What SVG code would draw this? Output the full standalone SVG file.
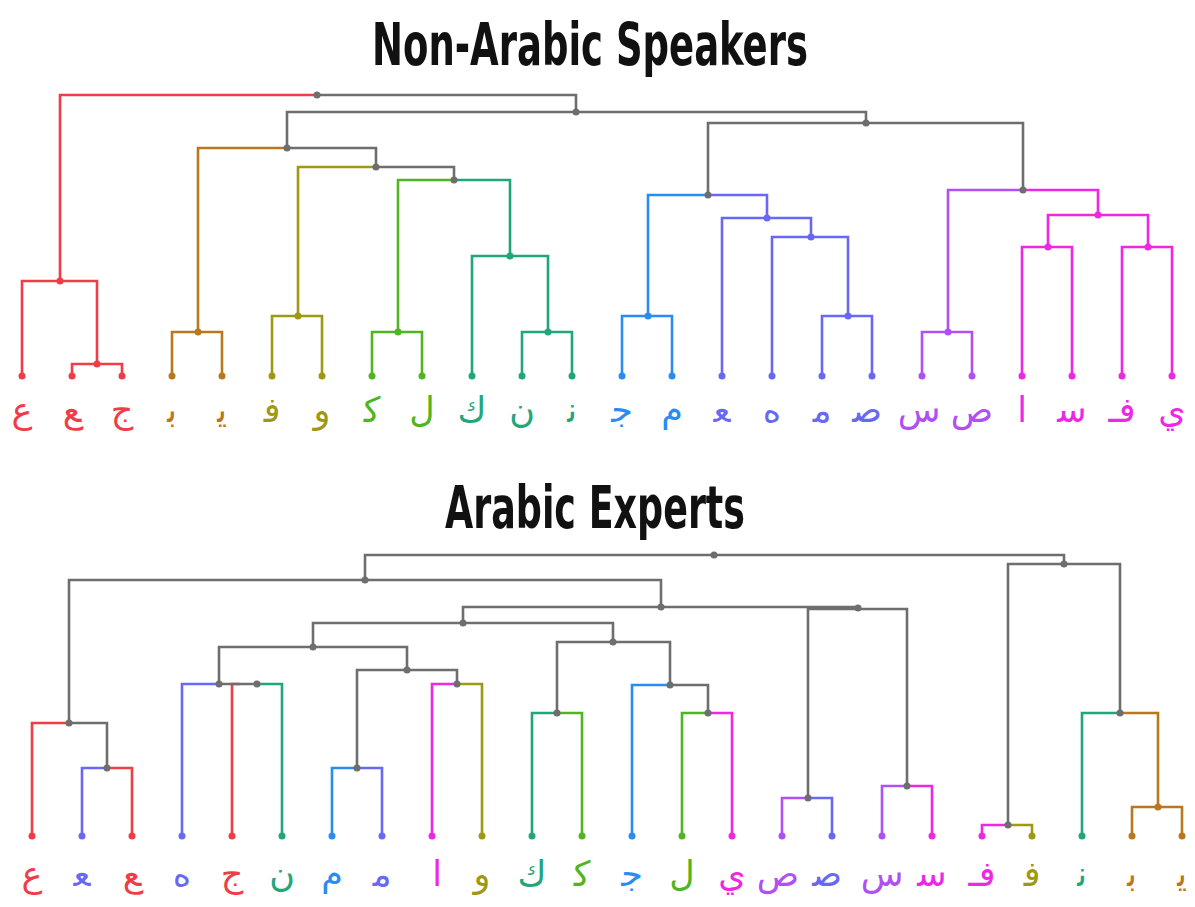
<svg xmlns="http://www.w3.org/2000/svg" width="1195" height="907" viewBox="0 0 1195 907">
<style>
.l{fill:none;stroke-width:2.6;stroke-linecap:butt;stroke-linejoin:miter}
.gy{stroke:#6e6e6e}.gyf{fill:#6e6e6e}
.rd{stroke:#f03c46}.rdf{fill:#f03c46}
.br{stroke:#b9781c}.brf{fill:#b9781c}
.ol{stroke:#9e9812}.olf{fill:#9e9812}
.gr{stroke:#4fb521}.grf{fill:#4fb521}
.te{stroke:#1fa67a}.tef{fill:#1fa67a}
.bl{stroke:#2b8cf0}.blf{fill:#2b8cf0}
.bp{stroke:#6868f4}.bpf{fill:#6868f4}
.pu{stroke:#b04ff5}.puf{fill:#b04ff5}
.mg{stroke:#ec28e4}.mgf{fill:#ec28e4}
.t{font-family:"DejaVu Sans Condensed","DejaVu Sans",sans-serif;font-weight:bold;fill:#111;text-anchor:middle}
.a{font-family:"DejaVu Sans",sans-serif;font-size:35px;text-anchor:middle}
</style>
<rect width="1195" height="907" fill="#fff"/>
<text class="t" x="590" y="65" font-size="58" textLength="436" lengthAdjust="spacingAndGlyphs">Non-Arabic Speakers</text>
<text class="t" x="595" y="528" font-size="58" textLength="300" lengthAdjust="spacingAndGlyphs">Arabic Experts</text>

<g id="connectors">
<g id="top-links">
<path class="l gy" d="M317,95H576V112 M287,148V112H866V123 M708,195V123H1023V190 M287,148H376V167H454V180"/>
<path class="l rd" d="M317,95H60V281 M22,376V281H97V364 M72,376V364H122V376"/>
<path class="l br" d="M287,148H198V332 M172,376V332H222V376"/>
<path class="l ol" d="M376,167H298V316 M272,376V316H322V376"/>
<path class="l gr" d="M454,180H398V332 M372,376V332H422V376"/>
<path class="l te" d="M454,180H510V256 M472,376V256H548V332 M522,376V332H572V376"/>
<path class="l bl" d="M708,195H648V316 M622,376V316H672V376"/>
<path class="l bp" d="M708,195H767V218 M722,376V218H811V237 M772,376V237H848V316 M822,376V316H872V376"/>
<path class="l pu" d="M1023,190H948V332 M922,376V332H972V376"/>
<path class="l mg" d="M1023,190H1098V215 M1048,247V215H1148V247 M1022,376V247H1072V376 M1122,376V247H1172V376"/>
</g>
<g id="bottom-links">
<path class="l rd" d="M32,836V723H69 M107,768H132V836 M232,836V684H240"/>
<path class="l gy" d="M365,580V555H1064V564 M69,723V580H661V607 M107,768V723H69 M463,623V607H858V609 M313,647V623H613V642 M219,684V647H407V670 M219,684H257 M357,768V670H457V684 M557,713V642H670V685H708V713 M808,798V609H907V786 M1008,825V564H1120V713"/>
<path class="l bp" d="M82,836V768H107 M182,836V684H219 M357,768H382V836 M808,798H832V836"/>
<path class="l te" d="M257,684H282V836 M532,836V713H557 M1082,836V713H1120"/>
<path class="l bl" d="M332,836V768H357 M632,836V685H670"/>
<path class="l mg" d="M432,836V684H457 M708,713H732V836 M907,786H932V836 M982,836V825H1008"/>
<path class="l ol" d="M457,684H482V836 M1008,825H1032V836"/>
<path class="l gr" d="M557,713H582V836 M682,836V713H708"/>
<path class="l pu" d="M782,836V798H808 M882,836V786H907"/>
<path class="l br" d="M1120,713H1158V807 M1132,836V807H1182V836"/>
</g>
</g>

<g id="top-internal-nodes">
<g id="tn-root"><circle class="gyf" cx="317" cy="95" r="3.5"/></g>
<g id="tn-a"><circle class="gyf" cx="576" cy="112" r="3.5"/></g>
<g id="tn-b"><circle class="gyf" cx="866" cy="123" r="3.5"/></g>
<g id="tn-c"><circle class="gyf" cx="287" cy="148" r="3.5"/></g>
<g id="tn-d"><circle class="gyf" cx="376" cy="167" r="3.5"/></g>
<g id="tn-e"><circle class="gyf" cx="454" cy="180" r="3.5"/></g>
<g id="tn-f"><circle class="gyf" cx="708" cy="195" r="3.5"/></g>
<g id="tn-g"><circle class="gyf" cx="1023" cy="190" r="3.5"/></g>
<g id="tn-h"><circle class="rdf" cx="60" cy="281" r="3.5"/></g>
<g id="tn-i"><circle class="rdf" cx="97" cy="364" r="3.5"/></g>
<g id="tn-j"><circle class="brf" cx="198" cy="332" r="3.5"/></g>
<g id="tn-k"><circle class="olf" cx="298" cy="316" r="3.5"/></g>
<g id="tn-l"><circle class="grf" cx="398" cy="332" r="3.5"/></g>
<g id="tn-m"><circle class="tef" cx="510" cy="256" r="3.5"/></g>
<g id="tn-n"><circle class="tef" cx="548" cy="332" r="3.5"/></g>
<g id="tn-o"><circle class="blf" cx="648" cy="316" r="3.5"/></g>
<g id="tn-p"><circle class="bpf" cx="767" cy="218" r="3.5"/></g>
<g id="tn-q"><circle class="bpf" cx="811" cy="237" r="3.5"/></g>
<g id="tn-r"><circle class="bpf" cx="848" cy="316" r="3.5"/></g>
<g id="tn-s"><circle class="puf" cx="948" cy="332" r="3.5"/></g>
<g id="tn-t"><circle class="mgf" cx="1098" cy="215" r="3.5"/></g>
<g id="tn-u"><circle class="mgf" cx="1048" cy="247" r="3.5"/></g>
<g id="tn-v"><circle class="mgf" cx="1148" cy="247" r="3.5"/></g>
</g>

<g id="top-leaves">
<g id="t0"><circle class="rdf" cx="22" cy="376" r="3.5"/><text class="a rdf" x="22" y="422">ع</text></g>
<g id="t1"><circle class="rdf" cx="72" cy="376" r="3.5"/><text class="a rdf" x="72" y="422">&#x200D;ع</text></g>
<g id="t2"><circle class="rdf" cx="122" cy="376" r="3.5"/><text class="a rdf" x="122" y="422">ج</text></g>
<g id="t3"><circle class="brf" cx="172" cy="376" r="3.5"/><text class="a brf" x="172" y="422">ب&#x200D;</text></g>
<g id="t4"><circle class="brf" cx="222" cy="376" r="3.5"/><text class="a brf" x="222" y="422">ي&#x200D;</text></g>
<g id="t5"><circle class="olf" cx="272" cy="376" r="3.5"/><text class="a olf" x="272" y="422">ف&#x200D;</text></g>
<g id="t6"><circle class="olf" cx="322" cy="376" r="3.5"/><text class="a olf" x="322" y="422">و</text></g>
<g id="t7"><circle class="grf" cx="372" cy="376" r="3.5"/><text class="a grf" x="372" y="422">ك&#x200D;</text></g>
<g id="t8"><circle class="grf" cx="422" cy="376" r="3.5"/><text class="a grf" x="422" y="422">ل</text></g>
<g id="t9"><circle class="tef" cx="472" cy="376" r="3.5"/><text class="a tef" x="472" y="422">ك</text></g>
<g id="t10"><circle class="tef" cx="522" cy="376" r="3.5"/><text class="a tef" x="522" y="422">ن</text></g>
<g id="t11"><circle class="tef" cx="572" cy="376" r="3.5"/><text class="a tef" x="572" y="422">ن&#x200D;</text></g>
<g id="t12"><circle class="blf" cx="622" cy="376" r="3.5"/><text class="a blf" x="622" y="422">ج&#x200D;</text></g>
<g id="t13"><circle class="blf" cx="672" cy="376" r="3.5"/><text class="a blf" x="672" y="422">م</text></g>
<g id="t14"><circle class="bpf" cx="722" cy="376" r="3.5"/><text class="a bpf" x="722" y="422">&#x200D;ع&#x200D;</text></g>
<g id="t15"><circle class="bpf" cx="772" cy="376" r="3.5"/><text class="a bpf" x="772" y="422">ه</text></g>
<g id="t16"><circle class="bpf" cx="822" cy="376" r="3.5"/><text class="a bpf" x="822" y="422">م&#x200D;</text></g>
<g id="t17"><circle class="bpf" cx="872" cy="376" r="3.5"/><text class="a bpf" x="867" y="422">ص&#x200D;</text></g>
<g id="t18"><circle class="puf" cx="922" cy="376" r="3.5"/><text class="a puf" x="919" y="422">س</text></g>
<g id="t19"><circle class="puf" cx="972" cy="376" r="3.5"/><text class="a puf" x="972" y="422">ص</text></g>
<g id="t20"><circle class="mgf" cx="1022" cy="376" r="3.5"/><text class="a mgf" x="1022" y="422">ا</text></g>
<g id="t21"><circle class="mgf" cx="1072" cy="376" r="3.5"/><text class="a mgf" x="1072" y="422">س&#x200D;</text></g>
<g id="t22"><circle class="mgf" cx="1122" cy="376" r="3.5"/><text class="a mgf" x="1122" y="422">فـ</text></g>
<g id="t23"><circle class="mgf" cx="1172" cy="376" r="3.5"/><text class="a mgf" x="1172" y="422">ي</text></g>
</g>

<g id="bottom-internal-nodes">
<g id="bn-root"><circle class="gyf" cx="714" cy="555" r="3.5"/></g>
<g id="bn-a"><circle class="gyf" cx="365" cy="580" r="3.5"/></g>
<g id="bn-b"><circle class="gyf" cx="1064" cy="564" r="3.5"/></g>
<g id="bn-c"><circle class="gyf" cx="69" cy="723" r="3.5"/></g>
<g id="bn-d"><circle class="gyf" cx="107" cy="768" r="3.5"/></g>
<g id="bn-e"><circle class="gyf" cx="661" cy="607" r="3.5"/></g>
<g id="bn-f"><circle class="gyf" cx="463" cy="623" r="3.5"/></g>
<g id="bn-g"><circle class="gyf" cx="858" cy="608" r="3.5"/></g>
<g id="bn-h"><circle class="gyf" cx="313" cy="647" r="3.5"/></g>
<g id="bn-i"><circle class="gyf" cx="613" cy="642" r="3.5"/></g>
<g id="bn-j"><circle class="gyf" cx="219" cy="684" r="3.5"/></g>
<g id="bn-k"><circle class="gyf" cx="257" cy="684" r="3.5"/></g>
<g id="bn-l"><circle class="gyf" cx="407" cy="670" r="3.5"/></g>
<g id="bn-m"><circle class="gyf" cx="357" cy="768" r="3.5"/></g>
<g id="bn-n"><circle class="gyf" cx="457" cy="684" r="3.5"/></g>
<g id="bn-o"><circle class="gyf" cx="557" cy="713" r="3.5"/></g>
<g id="bn-p"><circle class="gyf" cx="670" cy="685" r="3.5"/></g>
<g id="bn-q"><circle class="gyf" cx="708" cy="713" r="3.5"/></g>
<g id="bn-r"><circle class="gyf" cx="808" cy="798" r="3.5"/></g>
<g id="bn-s"><circle class="gyf" cx="907" cy="786" r="3.5"/></g>
<g id="bn-t"><circle class="gyf" cx="1008" cy="825" r="3.5"/></g>
<g id="bn-u"><circle class="gyf" cx="1120" cy="713" r="3.5"/></g>
<g id="bn-v"><circle class="brf" cx="1158" cy="807" r="3.5"/></g>
</g>

<g id="bottom-leaves">
<g id="b0"><circle class="rdf" cx="32" cy="836" r="3.5"/><text class="a rdf" x="32" y="886">ع</text></g>
<g id="b1"><circle class="bpf" cx="82" cy="836" r="3.5"/><text class="a bpf" x="82" y="886">&#x200D;ع&#x200D;</text></g>
<g id="b2"><circle class="rdf" cx="132" cy="836" r="3.5"/><text class="a rdf" x="132" y="886">&#x200D;ع</text></g>
<g id="b3"><circle class="bpf" cx="182" cy="836" r="3.5"/><text class="a bpf" x="182" y="886">ه</text></g>
<g id="b4"><circle class="rdf" cx="232" cy="836" r="3.5"/><text class="a rdf" x="232" y="886">ج</text></g>
<g id="b5"><circle class="tef" cx="282" cy="836" r="3.5"/><text class="a tef" x="282" y="886">ن</text></g>
<g id="b6"><circle class="blf" cx="332" cy="836" r="3.5"/><text class="a blf" x="332" y="886">م</text></g>
<g id="b7"><circle class="bpf" cx="382" cy="836" r="3.5"/><text class="a bpf" x="382" y="886">م&#x200D;</text></g>
<g id="b8"><circle class="mgf" cx="432" cy="836" r="3.5"/><text class="a mgf" x="437" y="886">ا</text></g>
<g id="b9"><circle class="olf" cx="482" cy="836" r="3.5"/><text class="a olf" x="482" y="886">و</text></g>
<g id="b10"><circle class="tef" cx="532" cy="836" r="3.5"/><text class="a tef" x="532" y="886">ك</text></g>
<g id="b11"><circle class="grf" cx="582" cy="836" r="3.5"/><text class="a grf" x="582" y="886">ك&#x200D;</text></g>
<g id="b12"><circle class="blf" cx="632" cy="836" r="3.5"/><text class="a blf" x="632" y="886">ج&#x200D;</text></g>
<g id="b13"><circle class="grf" cx="682" cy="836" r="3.5"/><text class="a grf" x="682" y="886">ل</text></g>
<g id="b14"><circle class="mgf" cx="732" cy="836" r="3.5"/><text class="a mgf" x="732" y="886">ي</text></g>
<g id="b15"><circle class="puf" cx="782" cy="836" r="3.5"/><text class="a puf" x="778" y="886">ص</text></g>
<g id="b16"><circle class="bpf" cx="832" cy="836" r="3.5"/><text class="a bpf" x="827" y="886">ص&#x200D;</text></g>
<g id="b17"><circle class="puf" cx="882" cy="836" r="3.5"/><text class="a puf" x="882" y="886">س</text></g>
<g id="b18"><circle class="mgf" cx="932" cy="836" r="3.5"/><text class="a mgf" x="932" y="886">س&#x200D;</text></g>
<g id="b19"><circle class="mgf" cx="982" cy="836" r="3.5"/><text class="a mgf" x="982" y="886">فـ</text></g>
<g id="b20"><circle class="olf" cx="1032" cy="836" r="3.5"/><text class="a olf" x="1032" y="886">ف&#x200D;</text></g>
<g id="b21"><circle class="tef" cx="1082" cy="836" r="3.5"/><text class="a tef" x="1082" y="886">ن&#x200D;</text></g>
<g id="b22"><circle class="brf" cx="1132" cy="836" r="3.5"/><text class="a brf" x="1132" y="886">ب&#x200D;</text></g>
<g id="b23"><circle class="brf" cx="1182" cy="836" r="3.5"/><text class="a brf" x="1182" y="886">ي&#x200D;</text></g>
</g>
</svg>
